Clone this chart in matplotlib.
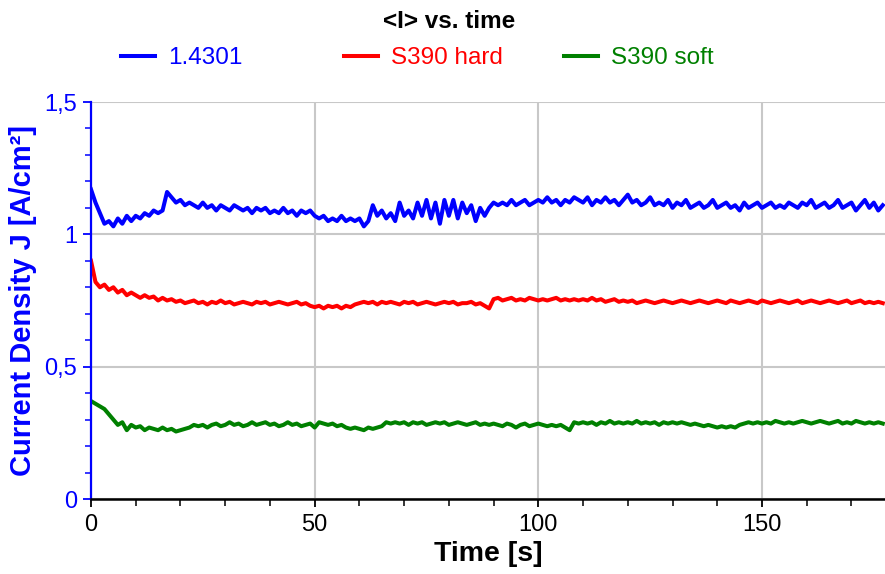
#!/usr/bin/env python3
"""Current density vs. time for three steel samples."""

import matplotlib

matplotlib.use("Agg", force=True)
import matplotlib.pyplot as plt
import numpy as np
from matplotlib.ticker import MultipleLocator

plt.rcParams["font.family"] = ["Liberation Sans", "DejaVu Sans"]

# one reading per second, 0 .. 177 s
TIME_S = np.arange(0, 178, 1.0)

J_14301 = [
    1.17, 1.12, 1.08, 1.04, 1.05, 1.03, 1.06, 1.04, 1.07, 1.05,
    1.07, 1.06, 1.08, 1.07, 1.09, 1.08, 1.09, 1.16, 1.14, 1.12,
    1.13, 1.11, 1.12, 1.11, 1.10, 1.12, 1.10, 1.11, 1.09, 1.11,
    1.10, 1.09, 1.11, 1.10, 1.09, 1.10, 1.08, 1.10, 1.09, 1.10,
    1.08, 1.09, 1.08, 1.10, 1.08, 1.09, 1.07, 1.09, 1.08, 1.09,
    1.07, 1.06, 1.07, 1.05, 1.06, 1.05, 1.07, 1.05, 1.06, 1.05,
    1.06, 1.03, 1.05, 1.11, 1.07, 1.09, 1.06, 1.08, 1.05, 1.12,
    1.07, 1.09, 1.06, 1.12, 1.07, 1.13, 1.06, 1.12, 1.04, 1.13,
    1.07, 1.13, 1.06, 1.12, 1.08, 1.11, 1.05, 1.10, 1.07, 1.10,
    1.12, 1.11, 1.12, 1.11, 1.13, 1.11, 1.12, 1.13, 1.11, 1.12,
    1.13, 1.12, 1.14, 1.12, 1.13, 1.11, 1.13, 1.12, 1.14, 1.13,
    1.12, 1.14, 1.11, 1.13, 1.12, 1.14, 1.12, 1.13, 1.11, 1.13,
    1.15, 1.12, 1.13, 1.11, 1.12, 1.14, 1.11, 1.12, 1.11, 1.13,
    1.10, 1.12, 1.11, 1.13, 1.10, 1.11, 1.12, 1.10, 1.11, 1.13,
    1.10, 1.11, 1.12, 1.10, 1.11, 1.09, 1.12, 1.10, 1.11, 1.12,
    1.10, 1.11, 1.12, 1.10, 1.11, 1.10, 1.12, 1.11, 1.10, 1.12,
    1.11, 1.13, 1.10, 1.11, 1.12, 1.10, 1.11, 1.13, 1.10, 1.11,
    1.12, 1.09, 1.11, 1.13, 1.10, 1.12, 1.09, 1.11,
]

J_S390_HARD = [
    0.90, 0.82, 0.80, 0.81, 0.79, 0.80, 0.78, 0.79, 0.77, 0.78,
    0.77, 0.76, 0.77, 0.76, 0.765, 0.75, 0.76, 0.75, 0.755, 0.745,
    0.75, 0.74, 0.745, 0.75, 0.74, 0.745, 0.735, 0.745, 0.74, 0.75,
    0.74, 0.745, 0.735, 0.74, 0.745, 0.74, 0.735, 0.745, 0.74, 0.745,
    0.735, 0.74, 0.745, 0.74, 0.735, 0.74, 0.745, 0.735, 0.74, 0.73,
    0.725, 0.73, 0.72, 0.73, 0.725, 0.73, 0.72, 0.73, 0.725, 0.735,
    0.74, 0.745, 0.74, 0.745, 0.735, 0.745, 0.74, 0.745, 0.74, 0.735,
    0.745, 0.74, 0.745, 0.735, 0.74, 0.745, 0.74, 0.735, 0.74, 0.745,
    0.74, 0.745, 0.735, 0.74, 0.74, 0.745, 0.735, 0.74, 0.73, 0.72,
    0.755, 0.76, 0.75, 0.755, 0.76, 0.75, 0.755, 0.75, 0.76, 0.755,
    0.75, 0.755, 0.75, 0.755, 0.76, 0.75, 0.755, 0.75, 0.755, 0.75,
    0.755, 0.75, 0.76, 0.75, 0.755, 0.745, 0.75, 0.755, 0.745, 0.75,
    0.745, 0.75, 0.74, 0.745, 0.75, 0.745, 0.74, 0.745, 0.75, 0.745,
    0.74, 0.745, 0.75, 0.745, 0.74, 0.745, 0.75, 0.745, 0.74, 0.745,
    0.75, 0.745, 0.74, 0.75, 0.745, 0.74, 0.745, 0.75, 0.745, 0.74,
    0.75, 0.745, 0.74, 0.745, 0.75, 0.745, 0.74, 0.745, 0.75, 0.74,
    0.745, 0.75, 0.745, 0.74, 0.745, 0.75, 0.745, 0.74, 0.745, 0.75,
    0.74, 0.745, 0.75, 0.74, 0.745, 0.74, 0.745, 0.74,
]

J_S390_SOFT = [
    0.37, 0.36, 0.35, 0.34, 0.32, 0.30, 0.28, 0.29, 0.26, 0.28,
    0.27, 0.275, 0.26, 0.27, 0.265, 0.26, 0.27, 0.26, 0.265, 0.255,
    0.26, 0.265, 0.27, 0.28, 0.275, 0.28, 0.27, 0.28, 0.285, 0.275,
    0.28, 0.29, 0.28, 0.285, 0.275, 0.28, 0.29, 0.28, 0.285, 0.29,
    0.28, 0.285, 0.275, 0.28, 0.29, 0.28, 0.285, 0.275, 0.28, 0.285,
    0.27, 0.29, 0.285, 0.28, 0.285, 0.275, 0.28, 0.27, 0.265, 0.27,
    0.265, 0.26, 0.27, 0.265, 0.27, 0.275, 0.29, 0.285, 0.29, 0.285,
    0.29, 0.28, 0.29, 0.285, 0.29, 0.28, 0.285, 0.29, 0.285, 0.29,
    0.28, 0.285, 0.29, 0.285, 0.28, 0.285, 0.29, 0.28, 0.285, 0.28,
    0.285, 0.28, 0.275, 0.285, 0.28, 0.27, 0.28, 0.285, 0.275, 0.28,
    0.285, 0.28, 0.275, 0.28, 0.275, 0.28, 0.27, 0.26, 0.29, 0.285,
    0.29, 0.285, 0.29, 0.28, 0.29, 0.285, 0.295, 0.285, 0.29, 0.285,
    0.29, 0.285, 0.295, 0.285, 0.29, 0.285, 0.29, 0.28, 0.29, 0.285,
    0.29, 0.285, 0.29, 0.285, 0.28, 0.285, 0.28, 0.275, 0.28, 0.275,
    0.27, 0.275, 0.27, 0.275, 0.27, 0.28, 0.285, 0.29, 0.285, 0.29,
    0.285, 0.29, 0.285, 0.295, 0.29, 0.285, 0.29, 0.285, 0.29, 0.295,
    0.29, 0.285, 0.29, 0.295, 0.29, 0.285, 0.29, 0.295, 0.285, 0.29,
    0.285, 0.295, 0.29, 0.285, 0.29, 0.285, 0.29, 0.285,
]

SERIES = [
    ("1.4301", J_14301, "#0000ff"),
    ("S390 hard", J_S390_HARD, "#ff0000"),
    ("S390 soft", J_S390_SOFT, "#008000"),
]
LEGEND_X = [121, 344, 564]  # pixel x of each legend handle

Y_TICKS = [0.0, 0.5, 1.0, 1.5]
Y_TICK_LABELS = ["0", "0,5", "1", "1,5"]
X_TICKS = [0, 50, 100, 150]


def main() -> None:
    fig = plt.figure(figsize=(8.85, 5.74), dpi=100)
    ax = fig.add_axes([91 / 885, 1 - 499 / 574, 794 / 885, 397 / 574])

    lines = []
    for label, values, color in SERIES:
        (line,) = ax.plot(TIME_S, values, color=color, lw=2.9, label=label,
                          solid_joinstyle="round")
        lines.append(line)

    ax.set_xlim(0, 177.5)
    ax.set_ylim(0, 1.5)
    ax.set_xticks(X_TICKS)
    ax.set_yticks(Y_TICKS, Y_TICK_LABELS)
    ax.xaxis.set_minor_locator(MultipleLocator(10))
    ax.yaxis.set_minor_locator(MultipleLocator(0.1))
    ax.grid(True, which="major", color="#c8c8c8", lw=1.5)
    ax.set_axisbelow(True)

    for side in ("top", "right"):
        ax.spines[side].set_visible(False)
    ax.spines["left"].set_color("#0000ff")
    ax.spines["left"].set_linewidth(1.6)
    ax.spines["bottom"].set_color("black")
    ax.spines["bottom"].set_linewidth(1.8)

    ax.tick_params(axis="x", which="both", direction="out", colors="black",
                   labelsize=17, pad=5)
    ax.tick_params(axis="x", which="major", length=6, width=1.3)
    ax.tick_params(axis="x", which="minor", length=5, width=1.1)
    ax.tick_params(axis="y", which="both", direction="out", colors="#0000ff",
                   labelsize=17, pad=4)
    ax.tick_params(axis="y", which="major", length=6, width=1.3)
    ax.tick_params(axis="y", which="minor", length=4, width=1.1)

    ax.set_xlabel("Time [s]", fontsize=20.5, fontweight="bold")
    ax.xaxis.set_label_coords(0.5, -0.105)
    ax.set_ylabel("Current Density J [A/cm²]", fontsize=21, fontweight="bold",
                  color="#0000ff")
    ax.yaxis.set_label_coords(-0.068, 0.5)

    fig.text(449 / 885, 1 - 21 / 574, "<I> vs. time", ha="center", va="center",
             fontsize=17.5, fontweight="bold")

    for line, x_px in zip(lines, LEGEND_X):
        leg = fig.legend(handles=[line], loc="center left",
                         bbox_to_anchor=(x_px / 885, 1 - 58 / 574),
                         frameon=False, fontsize=17.5, handlelength=1.4,
                         handletextpad=0.55, borderpad=0, borderaxespad=0)
        for text in leg.get_texts():
            text.set_color(line.get_color())

    fig.savefig("out.png", dpi=100)
    plt.close(fig)


if __name__ == "__main__":
    main()
